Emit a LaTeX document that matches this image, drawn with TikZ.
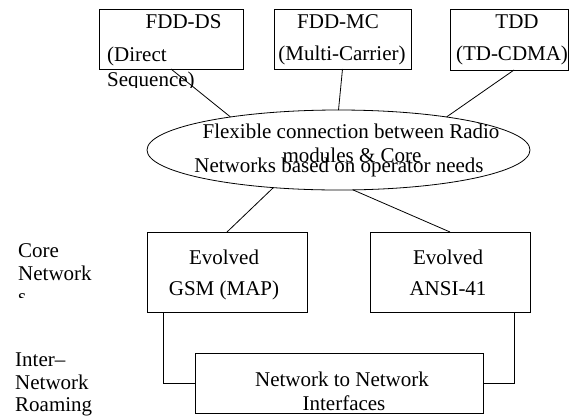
\documentclass[tikz,border=0pt]{standalone}
\usepackage{fontspec}
\setmainfont{Liberation Serif}
\usetikzlibrary{shapes.geometric}
\begin{document}
\begin{tikzpicture}[x=1pt,y=-1pt,
  box/.style={draw, line width=0.8pt, inner sep=0pt, outer sep=0pt},
  oval/.style={draw, ellipse, line width=0.8pt, inner sep=0pt, outer sep=0pt},
  link/.style={line width=0.8pt},
  txt/.style={inner sep=0pt, font=\fontsize{21}{24}\selectfont},
  lft/.style={txt, anchor=base west},
  ctr/.style={txt, anchor=base}]
\useasboundingbox (0,0) rectangle (577,418);

% radio access modules
\node[box, minimum width=144pt, minimum height=60pt] (ds) at (171,39) {};
\node[box, minimum width=137pt, minimum height=60pt] (mc) at (342.5,39) {};
\node[box, minimum width=118pt, minimum height=61pt] (tdd) at (509,39.5) {};

\node[lft] (dsA) at (145.5,28) {FDD-DS};
\node[lft] (dsB) at (107,61) {(Direct};
\begin{scope}
  \clip (90,70) rectangle (260,87.5);
  \node[lft] (dsC) at (107,86) {Sequence)};
\end{scope}
\node[ctr] (mcA) at (338,28) {FDD-MC};
\node[ctr] (mcB) at (342,60) {(Multi-Carrier)};
\node[ctr] (tdA) at (517,28) {TDD};
\node[ctr] (tdB) at (512,60) {(TD-CDMA)};

% flexible interconnection
\node[oval, minimum width=383pt, minimum height=80pt] (ell) at (338.5,150) {};
\node[ctr] (e1) at (351,138) {Flexible connection between Radio};
\node[ctr] (e2) at (352,162) {modules \& Core};
\node[ctr] (e3) at (339,172) {Networks based on operator needs};

% core networks
\node[box, minimum width=160pt, minimum height=80pt] (gsm) at (227,272) {};
\node[box, minimum width=160pt, minimum height=80pt] (ansi) at (450,272) {};
\node[ctr] (gA) at (224,264) {Evolved};
\node[ctr] (gB) at (224,295) {GSM (MAP)};
\node[ctr] (aA) at (448,264) {Evolved};
\node[ctr] (aB) at (448,295) {ANSI-41};

% inter-network interfaces
\node[box, minimum width=288pt, minimum height=60pt] (nn) at (339,383) {};
\node[ctr] (nA) at (342,386) {Network to Network};
\node[ctr] (nB) at (344,410) {Interfaces};

% side labels
\node[lft] (cA) at (18,257) {Core};
\node[lft] (cB) at (18,280) {Network};
\begin{scope}
  \clip (0,288) rectangle (100,297);
  \node[lft] (cC) at (18,303) {s};
\end{scope}
\node[lft] (iA) at (15,366) {Inter–};
\node[lft] (iB) at (15,389) {Network};
\node[lft] (iC) at (15,411) {Roaming};

% connectors
\draw[link] (ds.south) -- (ell.163.75);
\draw[link] (mc.south) -- (ell.north);
\draw[link] ([xshift=5pt]tdd.south) -- (ell.17.8);
\draw[link] (gsm.north) -- (ell.210.7);
\draw[link] (ansi.north) -- (ell.290);
\draw[link] ([xshift=16pt]gsm.south west) |- (nn.west);
\draw[link] ([xshift=-16pt]ansi.south east) |- (nn.east);
\end{tikzpicture}
\end{document}
